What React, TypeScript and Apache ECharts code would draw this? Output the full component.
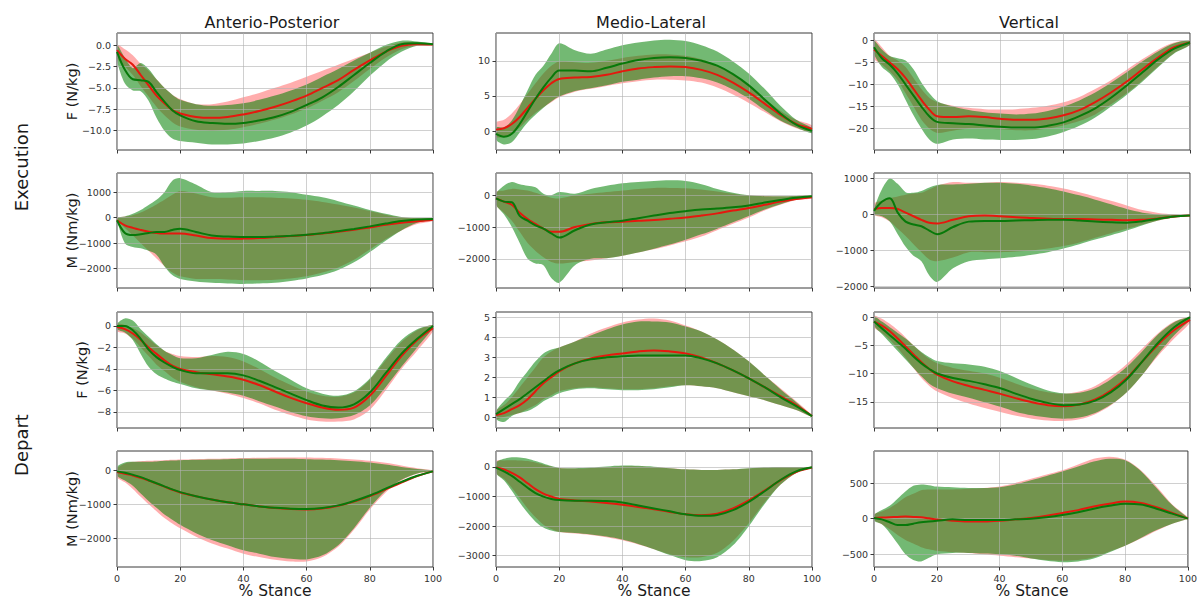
import React, { useEffect, useRef } from "react";
import * as echarts from "echarts";

// % stance sample positions
const X = [0, 2.5, 5, 7.5, 10, 12.5, 15, 17.5, 20, 25, 30, 35, 40, 45, 50, 55, 60, 65, 70, 75, 80, 85, 90, 95, 100];

const COL_TITLES = ["Anterio-Posterior", "Medio-Lateral", "Vertical"];
const ROW_TITLES = ["Execution", "Depart"];
const Y_NAMES = ["F (N/kg)", "M (Nm/kg)", "F (N/kg)", "M (Nm/kg)"];
const X_NAME = "% Stance";
const X_TICKS = [0, 20, 40, 60, 80, 100];

// ---------- Execution, Anterio-Posterior, Force ----------
const apExF_redMean = [-0.6, -1.6, -2.3, -3.5, -4.7, -5.9, -6.8, -7.6, -8.0, -8.4, -8.5, -8.4, -8.1, -7.7, -7.2, -6.6, -5.9, -5.0, -4.1, -2.9, -1.8, -0.8, -0.1, 0.1, 0.05];
const apExF_redLow = [-1.5, -2.5, -3.5, -4.8, -6.0, -7.2, -8.2, -9.0, -9.5, -9.9, -10.0, -9.9, -9.6, -9.2, -8.7, -8.1, -7.4, -6.5, -5.5, -4.2, -2.8, -1.5, -0.5, -0.1, 0];
const apExF_redHigh = [0, -0.5, -1.2, -2.2, -3.0, -4.0, -5.0, -5.8, -6.3, -6.9, -6.9, -6.6, -6.1, -5.6, -5.0, -4.4, -3.7, -3.0, -2.3, -1.6, -0.9, -0.2, 0.3, 0.3, 0.1];
const apExF_greenMean = [-0.8, -2.9, -4.0, -4.1, -4.3, -5.5, -6.6, -7.6, -8.2, -8.9, -9.1, -9.2, -9.1, -8.8, -8.4, -7.8, -7.0, -6.1, -4.9, -3.5, -2.1, -0.8, 0.1, 0.2, 0.1];
const apExF_greenLow = [-1.8, -4.5, -5.3, -5.4, -6.5, -8.5, -10.0, -10.9, -11.2, -11.4, -11.6, -11.6, -11.5, -11.2, -10.8, -10.2, -9.4, -8.3, -7.0, -5.4, -3.6, -2.0, -0.8, -0.1, 0];
const apExF_greenHigh = [0, -1.5, -2.7, -2.1, -2.8, -4.0, -5.0, -5.8, -6.4, -6.9, -7.1, -7.0, -6.8, -6.4, -5.9, -5.3, -4.6, -3.7, -2.8, -1.8, -0.9, 0.0, 0.5, 0.4, 0.1];

// ---------- Execution, Anterio-Posterior, Moment ----------
const apExM_redMean = [-100, -300, -400, -480, -550, -600, -620, -620, -620, -700, -800, -830, -820, -800, -760, -720, -680, -620, -550, -470, -380, -280, -200, -140, -80];
const apExM_redLow = [-100, -400, -700, -1000, -1300, -1600, -1900, -2150, -2300, -2400, -2400, -2420, -2450, -2450, -2430, -2380, -2300, -2150, -1950, -1650, -1250, -850, -500, -250, -130];
const apExM_redHigh = [0, 50, 100, 200, 350, 520, 700, 900, 1050, 950, 800, 780, 800, 800, 780, 750, 700, 620, 520, 400, 260, 120, 20, -20, -20];
const apExM_greenMean = [-100, -600, -680, -650, -600, -560, -560, -480, -430, -560, -700, -740, -760, -760, -740, -710, -670, -610, -530, -440, -340, -230, -130, -70, -50];
const apExM_greenLow = [-100, -1000, -1150, -1200, -1300, -1450, -1900, -2250, -2400, -2500, -2550, -2580, -2600, -2580, -2550, -2480, -2380, -2250, -2050, -1750, -1350, -900, -500, -200, -60];
const apExM_greenHigh = [0, 50, 150, 300, 500, 700, 1000, 1450, 1550, 1300, 1000, 1000, 1050, 1050, 1050, 1000, 900, 800, 650, 480, 300, 150, 30, -20, -40];

// ---------- Execution, Medio-Lateral, Force ----------
const mlExF_redMean = [0.2, 0.4, 1.0, 2.0, 3.3, 4.6, 5.8, 6.8, 7.4, 7.6, 7.7, 8.0, 8.5, 8.9, 9.1, 9.2, 9.1, 8.7, 8.0, 6.9, 5.5, 3.9, 2.3, 1.0, 0.3];
const mlExF_redLow = [-0.8, -0.8, -0.3, 0.5, 1.6, 2.6, 3.4, 4.1, 4.8, 5.6, 6.0, 6.4, 6.8, 7.1, 7.3, 7.3, 7.2, 6.9, 6.2, 5.2, 4.0, 2.7, 1.4, 0.4, -0.1];
const mlExF_redHigh = [1.2, 1.6, 2.5, 3.8, 5.3, 6.8, 8.2, 9.3, 9.9, 9.8, 9.7, 10.0, 10.4, 10.7, 10.9, 10.9, 10.7, 10.2, 9.3, 8.0, 6.4, 4.6, 2.9, 1.6, 0.8];
const mlExF_greenMean = [-0.4, -0.8, -0.4, 1.0, 2.8, 4.6, 6.2, 7.6, 8.6, 8.6, 8.5, 9.0, 9.6, 10.1, 10.4, 10.5, 10.4, 10.0, 9.3, 8.1, 6.5, 4.5, 2.5, 0.9, 0.0];
const mlExF_greenLow = [-1.2, -1.9, -1.6, -0.2, 1.2, 2.3, 3.3, 4.2, 4.9, 5.7, 6.1, 6.5, 7.0, 7.3, 7.6, 7.8, 7.8, 7.5, 6.9, 5.9, 4.6, 3.0, 1.5, 0.5, -0.3];
const mlExF_greenHigh = [0.5, 0.5, 1.5, 3.5, 5.8, 8.0, 9.3, 11.0, 12.5, 11.5, 11.0, 11.6, 12.2, 12.6, 12.9, 13.0, 12.8, 12.2, 11.3, 9.9, 8.2, 6.0, 3.6, 1.6, 0.4];

// ---------- Execution, Medio-Lateral, Moment ----------
const mlExM_redMean = [-100, -200, -300, -550, -750, -900, -1050, -1150, -1150, -1000, -900, -850, -830, -800, -780, -740, -700, -640, -570, -480, -400, -300, -200, -120, -60];
const mlExM_redLow = [-300, -550, -800, -1150, -1500, -1750, -1950, -2100, -2150, -2100, -2050, -1980, -1900, -1800, -1700, -1580, -1450, -1300, -1100, -900, -700, -480, -300, -150, -100];
const mlExM_redHigh = [100, 150, 200, 180, 150, 80, 0, -80, -100, 0, 50, 100, 150, 200, 230, 230, 220, 180, 120, 50, 0, -20, -30, -20, -10];
const mlExM_greenMean = [-100, -200, -220, -650, -800, -950, -1050, -1200, -1330, -1100, -920, -850, -800, -720, -640, -560, -500, -450, -420, -380, -320, -230, -150, -80, -30];
const mlExM_greenLow = [-300, -600, -1000, -1500, -2000, -2150, -2200, -2600, -2750, -2200, -2000, -1980, -1900, -1800, -1680, -1550, -1400, -1230, -1050, -850, -650, -450, -280, -130, -60];
const mlExM_greenHigh = [50, 300, 420, 350, 300, 250, 50, 0, 100, 50, 200, 300, 380, 420, 450, 470, 450, 350, 200, 80, 0, -30, -30, -20, -10];

// ---------- Execution, Vertical, Force ----------
const vExF_redMean = [-2.0, -3.5, -5.0, -6.5, -8.5, -11.0, -13.5, -15.7, -17.2, -17.4, -17.2, -17.4, -17.8, -18.0, -18.0, -17.7, -17.0, -15.8, -14.0, -11.8, -9.3, -6.5, -3.8, -1.5, -0.4];
const vExF_redLow = [-4.0, -5.5, -7.0, -9.0, -12.0, -15.0, -18.0, -20.0, -21.0, -20.5, -20.0, -20.0, -20.2, -20.4, -20.4, -20.0, -19.3, -18.3, -16.8, -14.5, -12.0, -9.0, -5.8, -2.8, -1.0];
const vExF_redHigh = [0.3, -1.5, -3.5, -4.5, -6.0, -8.5, -11.0, -13.0, -14.0, -14.8, -15.3, -15.6, -15.7, -15.6, -15.3, -14.8, -14.0, -12.8, -11.0, -9.0, -6.6, -4.2, -2.0, -0.4, 0];
const vExF_greenMean = [-1.5, -4.0, -5.5, -7.5, -10.0, -12.5, -15.0, -17.2, -18.5, -18.8, -19.0, -19.3, -19.6, -19.8, -19.8, -19.4, -18.6, -17.2, -15.4, -13.0, -10.2, -7.2, -4.2, -1.8, -0.4];
const vExF_greenLow = [-3.0, -6.0, -7.5, -10.0, -13.5, -17.0, -20.0, -22.5, -23.5, -22.5, -22.3, -22.5, -22.6, -22.6, -22.4, -21.8, -20.8, -19.4, -17.5, -15.0, -12.3, -9.3, -6.0, -2.9, -1.0];
const vExF_greenHigh = [0, -2.0, -3.5, -4.0, -4.5, -6.5, -9.5, -12.0, -13.8, -15.0, -15.8, -16.3, -16.6, -16.8, -16.6, -16.0, -15.0, -13.6, -11.8, -9.6, -7.2, -4.7, -2.4, -0.6, 0];

// ---------- Execution, Vertical, Moment ----------
const vExM_redMean = [150, 180, 180, 150, 50, -50, -150, -230, -250, -150, -50, -30, -50, -80, -100, -120, -130, -130, -140, -150, -160, -150, -110, -60, -30];
const vExM_redLow = [0, -80, -200, -400, -600, -830, -1050, -1250, -1300, -1200, -1050, -1050, -1050, -1030, -1000, -950, -880, -780, -650, -520, -400, -280, -170, -90, -40];
const vExM_redHigh = [300, 380, 450, 500, 550, 580, 600, 700, 800, 900, 880, 880, 900, 880, 850, 800, 720, 620, 500, 380, 250, 120, 40, 0, -20];
const vExM_greenMean = [100, 350, 450, 50, -200, -280, -330, -450, -550, -350, -200, -180, -180, -170, -160, -150, -150, -170, -200, -220, -230, -190, -120, -60, -30];
const vExM_greenLow = [0, -50, -200, -550, -900, -1150, -1300, -1700, -1880, -1500, -1300, -1250, -1220, -1180, -1120, -1050, -950, -830, -700, -580, -450, -300, -170, -80, -30];
const vExM_greenHigh = [150, 700, 1000, 850, 620, 600, 650, 750, 820, 830, 850, 880, 880, 850, 800, 730, 640, 530, 410, 280, 150, 50, 0, -10, -20];

// ---------- Depart, Anterio-Posterior, Force ----------
const apDeF_redMean = [-0.1, -0.3, -0.7, -1.3, -2.0, -2.6, -3.2, -3.7, -4.0, -4.3, -4.5, -4.7, -5.0, -5.5, -6.1, -6.7, -7.2, -7.6, -7.8, -7.6, -6.5, -4.7, -2.8, -1.3, -0.2];
const apDeF_redLow = [-0.5, -0.7, -1.2, -2.0, -2.8, -3.6, -4.2, -4.8, -5.2, -5.7, -6.0, -6.3, -6.7, -7.2, -7.8, -8.3, -8.7, -8.9, -8.9, -8.7, -7.8, -6.0, -4.0, -2.3, -0.5];
const apDeF_redHigh = [0.2, 0.1, -0.2, -0.6, -1.2, -1.8, -2.3, -2.6, -2.8, -2.9, -2.8, -2.9, -3.3, -4.0, -4.8, -5.5, -6.1, -6.5, -6.6, -6.2, -5.0, -3.2, -1.5, -0.4, 0.1];
const apDeF_greenMean = [0, 0, -0.4, -1.2, -2.2, -2.9, -3.4, -3.8, -4.1, -4.4, -4.4, -4.4, -4.6, -5.1, -5.7, -6.3, -6.9, -7.4, -7.6, -7.3, -6.2, -4.4, -2.6, -1.2, 0];
const apDeF_greenLow = [-0.3, -0.6, -1.3, -2.6, -3.8, -4.5, -4.9, -5.2, -5.4, -5.8, -6.0, -6.2, -6.5, -7.0, -7.5, -8.0, -8.4, -8.6, -8.6, -8.3, -7.4, -5.7, -3.8, -2.0, -0.2];
const apDeF_greenHigh = [0.2, 0.7, 0.5, -0.3, -1.0, -1.7, -2.3, -2.7, -3.0, -3.0, -2.7, -2.4, -2.6, -3.3, -4.2, -5.0, -5.8, -6.3, -6.5, -6.1, -4.9, -3.0, -1.3, -0.3, 0.1];

// ---------- Depart, Anterio-Posterior, Moment ----------
const apDeM_redMean = [-50, -100, -150, -220, -300, -390, -480, -570, -650, -760, -860, -940, -1000, -1060, -1110, -1140, -1150, -1120, -1040, -920, -760, -560, -360, -170, -30];
const apDeM_redLow = [-200, -350, -550, -780, -1000, -1200, -1400, -1560, -1700, -1950, -2150, -2300, -2450, -2550, -2630, -2680, -2680, -2550, -2250, -1750, -1150, -650, -300, -100, -20];
const apDeM_redHigh = [50, 200, 250, 270, 280, 290, 300, 310, 320, 330, 340, 350, 360, 370, 380, 380, 380, 370, 350, 320, 280, 220, 140, 60, 0];
const apDeM_greenMean = [-30, -70, -130, -200, -290, -380, -470, -560, -640, -760, -860, -940, -1000, -1060, -1100, -1130, -1140, -1110, -1030, -900, -740, -540, -340, -160, -30];
const apDeM_greenLow = [-150, -300, -450, -680, -900, -1100, -1300, -1450, -1600, -1850, -2050, -2200, -2350, -2450, -2550, -2600, -2620, -2500, -2200, -1700, -1100, -600, -280, -90, -20];
const apDeM_greenHigh = [100, 230, 250, 250, 250, 260, 280, 290, 300, 310, 320, 330, 340, 340, 340, 340, 330, 320, 300, 270, 230, 170, 100, 40, 0];

// ---------- Depart, Medio-Lateral, Force ----------
const mlDeF_redMean = [0.1, 0.2, 0.4, 0.6, 0.9, 1.3, 1.7, 2.0, 2.3, 2.7, 2.95, 3.1, 3.2, 3.3, 3.35, 3.3, 3.2, 3.0, 2.7, 2.35, 1.95, 1.5, 1.05, 0.6, 0.05];
const mlDeF_redLow = [-0.1, 0.0, 0.1, 0.2, 0.4, 0.6, 0.9, 1.1, 1.3, 1.45, 1.5, 1.45, 1.4, 1.4, 1.45, 1.55, 1.6, 1.55, 1.45, 1.25, 1.05, 0.85, 0.6, 0.35, 0.0];
const mlDeF_redHigh = [0.3, 0.6, 1.0, 1.5, 2.0, 2.5, 3.0, 3.3, 3.5, 3.8, 4.2, 4.5, 4.75, 4.9, 4.95, 4.85, 4.6, 4.3, 3.9, 3.4, 2.8, 2.1, 1.45, 0.8, 0.1];
const mlDeF_greenMean = [0.15, 0.4, 0.65, 0.9, 1.2, 1.5, 1.8, 2.1, 2.35, 2.7, 2.9, 3.0, 3.05, 3.1, 3.1, 3.1, 3.1, 2.95, 2.7, 2.35, 1.95, 1.5, 1.0, 0.55, 0.05];
const mlDeF_greenLow = [-0.1, -0.25, 0.05, 0.2, 0.3, 0.5, 0.8, 1.0, 1.2, 1.4, 1.45, 1.4, 1.35, 1.35, 1.4, 1.5, 1.6, 1.55, 1.45, 1.25, 1.05, 0.85, 0.6, 0.35, 0.0];
const mlDeF_greenHigh = [0.3, 0.8, 1.2, 1.8, 2.3, 2.8, 3.2, 3.4, 3.5, 3.8, 4.1, 4.4, 4.65, 4.8, 4.8, 4.75, 4.55, 4.3, 3.9, 3.4, 2.8, 2.1, 1.4, 0.75, 0.05];

// ---------- Depart, Medio-Lateral, Moment ----------
const mlDeM_redMean = [-20, -80, -200, -350, -550, -750, -900, -1000, -1080, -1130, -1170, -1220, -1280, -1350, -1430, -1520, -1600, -1630, -1580, -1400, -1130, -800, -450, -170, -20];
const mlDeM_redLow = [-200, -400, -700, -1050, -1400, -1700, -1950, -2100, -2200, -2250, -2300, -2380, -2480, -2620, -2780, -2950, -3050, -3050, -2900, -2500, -1900, -1200, -600, -200, -20];
const mlDeM_redHigh = [200, 220, 230, 220, 200, 150, 80, 20, -30, -50, -30, 0, 20, 20, 0, -40, -80, -100, -100, -80, -50, -20, 0, 0, 0];
const mlDeM_greenMean = [-20, -150, -300, -500, -700, -880, -1000, -1080, -1120, -1140, -1140, -1150, -1200, -1300, -1400, -1500, -1600, -1650, -1620, -1460, -1180, -820, -440, -150, -10];
const mlDeM_greenLow = [-200, -450, -800, -1200, -1550, -1850, -2050, -2150, -2200, -2230, -2280, -2350, -2450, -2600, -2780, -2980, -3150, -3180, -3050, -2650, -2000, -1250, -600, -200, -20];
const mlDeM_greenHigh = [150, 280, 330, 320, 280, 200, 120, 30, -30, -40, -20, 20, 50, 40, 10, -40, -80, -100, -100, -80, -40, -10, 0, 0, 0];

// ---------- Depart, Vertical, Force ----------
const vDeF_redMean = [-0.8, -1.5, -2.5, -3.8, -5.2, -6.6, -8.0, -9.2, -10.2, -11.4, -12.2, -12.9, -13.6, -14.4, -15.1, -15.6, -15.8, -15.5, -14.6, -13.0, -10.8, -7.8, -4.8, -2.3, -0.5];
const vDeF_redLow = [-1.8, -2.8, -4.0, -5.5, -7.2, -9.0, -10.8, -12.2, -13.2, -14.4, -15.3, -16.1, -16.8, -17.5, -18.0, -18.3, -18.4, -18.1, -17.2, -15.6, -13.3, -10.2, -6.8, -3.8, -1.0];
const vDeF_redHigh = [0.2, -0.3, -1.2, -2.3, -3.6, -5.0, -6.3, -7.4, -8.2, -9.0, -9.5, -10.0, -10.8, -11.8, -12.7, -13.3, -13.6, -13.2, -12.2, -10.5, -8.3, -5.5, -2.8, -0.8, 0];
const vDeF_greenMean = [-0.8, -2.0, -3.2, -4.4, -5.6, -7.0, -8.2, -9.2, -10.0, -10.8, -11.3, -11.9, -12.6, -13.6, -14.5, -15.2, -15.6, -15.5, -14.8, -13.3, -11.0, -7.8, -4.5, -1.8, 0];
const vDeF_greenLow = [-1.5, -3.0, -4.5, -6.0, -7.5, -9.0, -10.5, -11.8, -12.6, -13.6, -14.3, -15.1, -15.9, -16.8, -17.4, -17.8, -18.0, -17.8, -17.0, -15.5, -13.3, -10.2, -6.5, -3.2, -0.5];
const vDeF_greenHigh = [0.1, -0.8, -1.8, -2.8, -3.8, -5.0, -6.2, -7.1, -7.8, -8.2, -8.4, -8.8, -9.6, -10.8, -12.0, -13.0, -13.5, -13.4, -12.6, -11.0, -8.8, -6.0, -3.0, -0.9, 0];

// ---------- Depart, Vertical, Moment ----------
const vDeM_redMean = [10, 15, 20, 25, 30, 25, 20, 5, -10, -30, -40, -40, -30, -10, 10, 40, 80, 120, 170, 210, 240, 220, 160, 80, 0];
const vDeM_redLow = [-20, -80, -150, -230, -300, -350, -400, -430, -450, -470, -480, -500, -520, -540, -560, -580, -590, -580, -540, -460, -380, -280, -170, -70, 0];
const vDeM_redHigh = [60, 100, 150, 220, 300, 350, 400, 410, 410, 410, 420, 430, 450, 500, 560, 620, 680, 760, 840, 870, 830, 680, 450, 200, 20];
const vDeM_greenMean = [10, -10, -50, -90, -90, -70, -50, -40, -30, -10, -20, -20, -20, -10, 0, 20, 50, 90, 140, 180, 210, 200, 140, 70, 0];
const vDeM_greenLow = [-30, -80, -200, -350, -500, -580, -600, -550, -500, -480, -480, -490, -500, -520, -560, -590, -610, -600, -560, -470, -380, -270, -160, -70, 0];
const vDeM_greenHigh = [50, 120, 180, 280, 380, 460, 480, 470, 450, 440, 430, 430, 440, 480, 540, 600, 660, 730, 800, 840, 820, 670, 430, 190, 10];

// ---------- y tick values per panel ----------
const apExF_ticks = [0, -2.5, -5, -7.5, -10];
const apExM_ticks = [1000, 0, -1000, -2000];
const mlExF_ticks = [0, 5, 10];
const mlExM_ticks = [0, -1000, -2000];
const vExF_ticks = [0, -5, -10, -15, -20];
const vExM_ticks = [1000, 0, -1000, -2000];
const apDeF_ticks = [0, -2, -4, -6, -8];
const apDeM_ticks = [0, -1000, -2000];
const mlDeF_ticks = [0, 1, 2, 3, 4, 5];
const mlDeM_ticks = [0, -1000, -2000, -3000];
const vDeF_ticks = [0, -5, -10, -15];
const vDeM_ticks = [500, 0, -500];

type Band = { mean: number[]; low: number[]; high: number[] };
type Panel = { row: number; col: number; red: Band; green: Band; min: number; max: number; ticks: number[]; dec: number };

const PANELS: Panel[] = [
  { row: 0, col: 0, red: { mean: apExF_redMean, low: apExF_redLow, high: apExF_redHigh }, green: { mean: apExF_greenMean, low: apExF_greenLow, high: apExF_greenHigh }, min: -12.25, max: 1.4, ticks: apExF_ticks, dec: 1 },
  { row: 1, col: 0, red: { mean: apExM_redMean, low: apExM_redLow, high: apExM_redHigh }, green: { mean: apExM_greenMean, low: apExM_greenLow, high: apExM_greenHigh }, min: -2757, max: 1753, ticks: apExM_ticks, dec: 0 },
  { row: 0, col: 1, red: { mean: mlExF_redMean, low: mlExF_redLow, high: mlExF_redHigh }, green: { mean: mlExF_greenMean, low: mlExF_greenLow, high: mlExF_greenHigh }, min: -2.7, max: 13.95, ticks: mlExF_ticks, dec: 0 },
  { row: 1, col: 1, red: { mean: mlExM_redMean, low: mlExM_redLow, high: mlExM_redHigh }, green: { mean: mlExM_greenMean, low: mlExM_greenLow, high: mlExM_greenHigh }, min: -2917, max: 700, ticks: mlExM_ticks, dec: 0 },
  { row: 0, col: 2, red: { mean: vExF_redMean, low: vExF_redLow, high: vExF_redHigh }, green: { mean: vExF_greenMean, low: vExF_greenLow, high: vExF_greenHigh }, min: -24.9, max: 1.75, ticks: vExF_ticks, dec: 0 },
  { row: 1, col: 2, red: { mean: vExM_redMean, low: vExM_redLow, high: vExM_redHigh }, green: { mean: vExM_greenMean, low: vExM_greenLow, high: vExM_greenHigh }, min: -2046, max: 1152, ticks: vExM_ticks, dec: 0 },
  { row: 2, col: 0, red: { mean: apDeF_redMean, low: apDeF_redLow, high: apDeF_redHigh }, green: { mean: apDeF_greenMean, low: apDeF_greenLow, high: apDeF_greenHigh }, min: -9.5, max: 1.3, ticks: apDeF_ticks, dec: 0 },
  { row: 3, col: 0, red: { mean: apDeM_redMean, low: apDeM_redLow, high: apDeM_redHigh }, green: { mean: apDeM_greenMean, low: apDeM_greenLow, high: apDeM_greenHigh }, min: -2843, max: 569, ticks: apDeM_ticks, dec: 0 },
  { row: 2, col: 1, red: { mean: mlDeF_redMean, low: mlDeF_redLow, high: mlDeF_redHigh }, green: { mean: mlDeF_greenMean, low: mlDeF_greenLow, high: mlDeF_greenHigh }, min: -0.55, max: 5.28, ticks: mlDeF_ticks, dec: 0 },
  { row: 3, col: 1, red: { mean: mlDeM_redMean, low: mlDeM_redLow, high: mlDeM_redHigh }, green: { mean: mlDeM_greenMean, low: mlDeM_greenLow, high: mlDeM_greenHigh }, min: -3382, max: 541, ticks: mlDeM_ticks, dec: 0 },
  { row: 2, col: 2, red: { mean: vDeF_redMean, low: vDeF_redLow, high: vDeF_redHigh }, green: { mean: vDeF_greenMean, low: vDeF_greenLow, high: vDeF_greenHigh }, min: -19.65, max: 0.9, ticks: vDeF_ticks, dec: 0 },
  { row: 3, col: 2, red: { mean: vDeM_redMean, low: vDeM_redLow, high: vDeM_redHigh }, green: { mean: vDeM_greenMean, low: vDeM_greenLow, high: vDeM_greenHigh }, min: -678, max: 949, ticks: vDeM_ticks, dec: 0 },
];

// ---------- layout & style ----------
const COL_LEFT = [117, 496, 874];
const PLOT_W = 316;
const ROW_TOP = [33, 173, 312, 451];
const ROW_H = [117, 115, 116, 116];
const FONT = "DejaVu Sans";
const RED_LINE = "#e5180e";
const GREEN_LINE = "#08790a";
const RED_FILL = "rgba(255,0,0,0.32)";
const GREEN_FILL = "rgba(0,128,0,0.55)";
const GRID_LINE = "rgba(176,176,176,0.6)";
const SPINE = "#3a3a3a";
const TICK_TEXT = "#333";

function fmt(v: number, dec: number) {
  const s = dec > 0 ? v.toFixed(dec) : String(Math.round(v));
  return s.replace("-", "\u2212");
}

function bandSeries(idx: number, band: Band, fill: string) {
  return {
    type: "custom",
    xAxisIndex: idx,
    yAxisIndex: idx,
    silent: true,
    clip: true,
    z: 2,
    data: X.map((x, k) => [x, band.low[k], band.high[k]]),
    encode: { x: 0, y: [1, 2] },
    renderItem: (params: any, api: any) => {
      if (params.dataIndex !== 0) return null;
      const cs = params.coordSys;
      const top = X.map((x, k) => api.coord([x, band.high[k]]));
      const bot = X.map((x, k) => api.coord([x, band.low[k]])).reverse();
      return {
        type: "polygon",
        shape: {
          points: top.concat(bot),
          smooth: 0.3,
          smoothConstraint: [
            [cs.x, cs.y],
            [cs.x + cs.width, cs.y + cs.height],
          ],
        },
        style: { fill: fill, stroke: "none" },
      };
    },
  };
}

function lineSeries(idx: number, vals: number[], color: string, z: number) {
  return {
    type: "line",
    xAxisIndex: idx,
    yAxisIndex: idx,
    data: X.map((x, k) => [x, vals[k]]),
    smooth: 0.35,
    symbol: "none",
    showSymbol: false,
    silent: true,
    z: z,
    lineStyle: { color: color, width: 2 },
  };
}

function buildOption() {
  const grid: any[] = [];
  const xAxis: any[] = [];
  const yAxis: any[] = [];
  const series: any[] = [];
  PANELS.forEach((p, i) => {
    grid.push({
      left: COL_LEFT[p.col],
      top: ROW_TOP[p.row],
      width: PLOT_W,
      height: ROW_H[p.row],
      show: true,
      borderColor: SPINE,
      borderWidth: 1,
      backgroundColor: "transparent",
      z: 3,
    });
    xAxis.push({
      gridIndex: i,
      type: "value",
      position: "bottom",
      min: 0,
      max: 100,
      interval: 20,
      z: 3,
      axisLine: { show: false, onZero: false },
      axisTick: { show: true, inside: false, length: 3.5, lineStyle: { color: SPINE, width: 1 } },
      axisLabel: {
        show: p.row === 3,
        customValues: X_TICKS,
        fontSize: 9.5,
        fontFamily: FONT,
        color: TICK_TEXT,
        margin: 6,
      },
      splitLine: { show: true, lineStyle: { color: GRID_LINE, width: 1 } },
    });
    yAxis.push({
      gridIndex: i,
      type: "value",
      position: "left",
      min: p.min,
      max: p.max,
      z: 3,
      axisLine: { show: false, onZero: false },
      axisTick: { show: true, inside: false, length: 3.5, customValues: p.ticks, lineStyle: { color: SPINE, width: 1 } },
      axisLabel: {
        show: true,
        customValues: p.ticks,
        formatter: (v: number) => fmt(v, p.dec),
        fontSize: 9.5,
        fontFamily: FONT,
        color: TICK_TEXT,
        margin: 6,
      },
      splitLine: { show: true, lineStyle: { color: GRID_LINE, width: 1 } },
    });
    series.push(bandSeries(i, p.red, RED_FILL));
    series.push(bandSeries(i, p.green, GREEN_FILL));
    series.push(lineSeries(i, p.red.mean, RED_LINE, 4));
    series.push(lineSeries(i, p.green.mean, GREEN_LINE, 5));
  });

  const graphic: any[] = [];
  COL_TITLES.forEach((t, c) => {
    graphic.push({
      type: "text",
      x: COL_LEFT[c] + PLOT_W / 2 - 3,
      y: 22,
      style: { text: t, font: `16px '${FONT}'`, fill: "#1a1a1a", textAlign: "center", textVerticalAlign: "middle" },
    });
    graphic.push({
      type: "text",
      x: COL_LEFT[c] + PLOT_W / 2,
      y: 591,
      style: { text: X_NAME, font: `15.5px '${FONT}'`, fill: "#1a1a1a", textAlign: "center", textVerticalAlign: "middle" },
    });
  });
  const rowLabelY = [167, 445];
  ROW_TITLES.forEach((t, r) => {
    graphic.push({
      type: "text",
      x: 21,
      y: rowLabelY[r],
      rotation: Math.PI / 2,
      style: { text: t, font: `18px '${FONT}'`, fill: "#1a1a1a", textAlign: "center", textVerticalAlign: "middle" },
    });
  });
  const yNameX = [72, 72, 82, 72];
  Y_NAMES.forEach((t, r) => {
    graphic.push({
      type: "text",
      x: yNameX[r],
      y: ROW_TOP[r] + ROW_H[r] / 2,
      rotation: Math.PI / 2,
      style: { text: t, font: `14.5px '${FONT}'`, fill: "#1a1a1a", textAlign: "center", textVerticalAlign: "middle" },
    });
  });

  return {
    animation: false,
    backgroundColor: "#ffffff",
    textStyle: { fontFamily: FONT },
    grid,
    xAxis,
    yAxis,
    series,
    graphic,
  };
}

export default function App() {
  const ref = useRef<HTMLDivElement>(null);
  useEffect(() => {
    if (!ref.current) return;
    const chart = echarts.init(ref.current, null, { renderer: "svg" });
    chart.setOption(buildOption() as any);
    return () => {
      chart.dispose();
    };
  }, []);
  return (
    <div
      ref={ref}
      style={{ position: "absolute", left: 0, top: 0, width: 1200, height: 602, background: "#fff" }}
    />
  );
}
